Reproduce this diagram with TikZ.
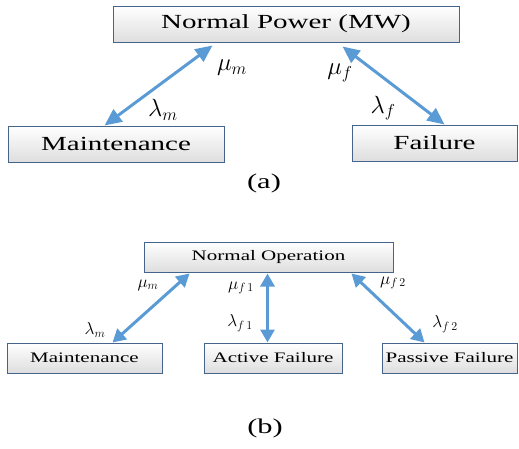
\documentclass[tikz,border=0pt]{standalone}
\usepackage{fontspec}
\setmainfont[FakeStretch=1.45]{Liberation Serif}
\usetikzlibrary{arrows.meta}

\definecolor{boxline}{RGB}{68,100,140}
\definecolor{arrowblue}{RGB}{91,155,213}

\begin{document}
\begin{tikzpicture}[x = 1pt, y = -1pt, font = \rmfamily]
	\tikzstyle{stateStyle} = [draw = boxline, line width = 1pt, top color = white, bottom color = black!13, inner sep = 0pt]
	\tikzstyle{bigState} = [stateStyle, minimum height = 36pt, font = \fontsize{20}{20}\selectfont]
	\tikzstyle{smallState} = [stateStyle, minimum height = 30pt, font = \fontsize{14.5}{14.5}\selectfont]
	\tikzstyle{bigRate} = [inner sep = 0pt, font = \fontsize{23}{23}\selectfont]
	\tikzstyle{smallRate} = [inner sep = 0pt, font = \fontsize{17}{17}\selectfont]
	\tikzstyle{bigArrow} = [arrowblue, line width = 3pt, {Triangle[length = 17pt, width = 15pt]}-{Triangle[length = 17pt, width = 15pt]}]
	\tikzstyle{smallArrow} = [arrowblue, line width = 3pt, {Triangle[length = 13pt, width = 14pt]}-{Triangle[length = 13pt, width = 14pt]}]
	\useasboundingbox (0, 0) rectangle (519, 448);
	% (a)
	\node[bigState, minimum width = 346pt] (np) at (286, 24) {Normal Power (MW)};
	\node[bigState, minimum width = 216pt] (mt) at (116, 144) {Maintenance};
	\node[bigState, minimum width = 165pt] (fl) at (434.5, 143) {Failure};
	\node[font = \fontsize{21}{21}\selectfont] (capa) at (264, 183) {(a)};
	\draw[bigArrow] ([xshift = 100pt, yshift = -3pt]np.south west) -- ([xshift = 97pt]mt.north west);
	\draw[bigArrow] ([xshift = 230pt, yshift = -4pt]np.south west) -- ([xshift = 93pt]fl.north west);
	\node[bigRate] (mum) at (232, 68) {$\mu_m$};
	\node[bigRate] (lam) at (163, 110) {$\lambda_m$};
	\node[bigRate] (muf) at (340, 73) {$\mu_f$};
	\node[bigRate] (laf) at (383, 108) {$\lambda_f$};
	% (b)
	\node[smallState, minimum width = 249pt] (no) at (268.5, 257) {Normal Operation};
	\node[smallState, minimum width = 155pt] (mt2) at (84.5, 358) {Maintenance};
	\node[smallState, minimum width = 138pt] (af) at (273, 358) {Active Failure};
	\node[smallState, minimum width = 135pt] (pf) at (449.5, 358) {Passive Failure};
	\node[font = \fontsize{21}{21}\selectfont] (capb) at (265, 428) {(b)};
	\draw[smallArrow] ([xshift = 46pt, yshift = -1pt]no.south west) -- ([xshift = 106pt]mt2.north west);
	\draw[smallArrow] ([xshift = 124pt, yshift = -1pt]no.south west) -- ([xshift = 64pt]af.north west);
	\draw[smallArrow] ([xshift = 208pt, yshift = -1pt]no.south west) -- ([xshift = 43pt]pf.north west);
	\node[smallRate] (mum2) at (148, 285) {$\mu_m$};
	\node[smallRate] (lam2) at (95, 330) {$\lambda_m$};
	\node[smallRate] (muf1) at (241, 288) {$\mu_{f\,1}$};
	\node[smallRate] (laf1) at (240, 323) {$\lambda_{f\,1}$};
	\node[smallRate] (muf2) at (393, 283) {$\mu_{f\,2}$};
	\node[smallRate] (laf2) at (445, 324) {$\lambda_{f\,2}$};
\end{tikzpicture}
\end{document}
